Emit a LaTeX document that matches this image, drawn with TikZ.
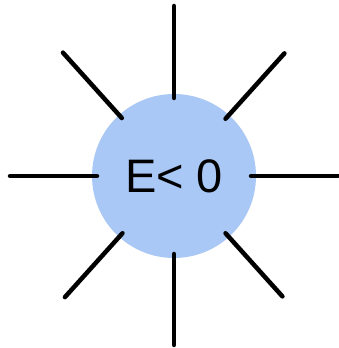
\documentclass[tikz,border=0pt]{standalone}
\usepackage{fontspec}
\usepackage{tikz}
\usetikzlibrary{calc}
\newfontfamily\labelfont{Liberation Sans}
\definecolor{sunblue}{RGB}{169,200,246}

\begin{document}
\begin{tikzpicture}[
  x=1pt, y=1pt,
  sun/.style={circle, fill=sunblue, minimum size=164pt, inner sep=0pt,
              font=\labelfont\fontsize{47}{47}\selectfont},
  ray/.style={line width=4.5pt, line cap=round, black}
]
  \useasboundingbox (0,0) rectangle (339,348);

  % Node
  \node[sun] (sun) at (174,172) {E< 0};

  % Rays
  \foreach \ang/\rin/\rout in {0/77/164, 48/77/165, 90/78/170, 132/78/166,
                               180/77/164, 228/77/163, 270/78/169, 312/77/162} {
    \coordinate (in\ang)  at ($(sun.center)+(\ang:\rin)$);
    \coordinate (out\ang) at ($(sun.center)+(\ang:\rout)$);
    \draw[ray] (in\ang) -- (out\ang);
  }
\end{tikzpicture}
\end{document}
